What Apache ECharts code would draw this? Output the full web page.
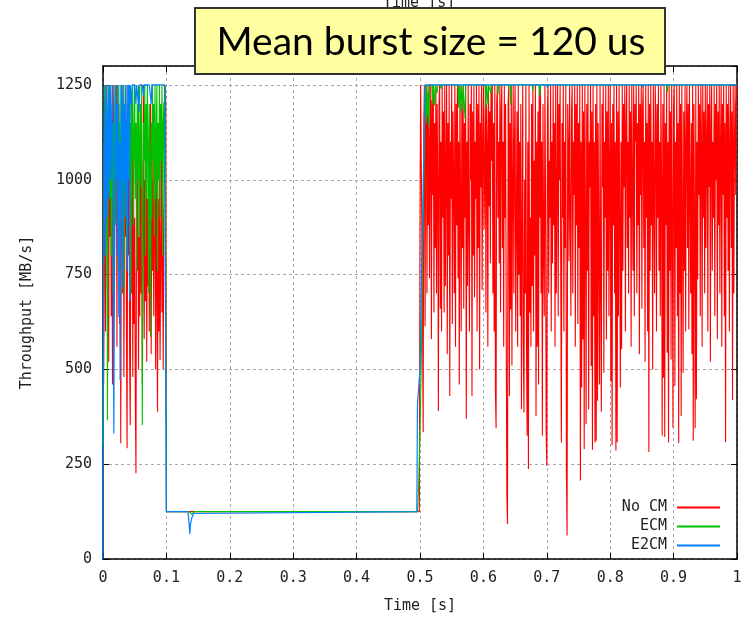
<!DOCTYPE html>
<html>
<head>
<meta charset="utf-8">
<script src="https://cdn.jsdelivr.net/npm/echarts@6/dist/echarts.min.js"></script>
<style>
html,body{margin:0;padding:0;background:#fff;}
#chart{width:753px;height:617px;}
</style>
</head>
<body>
<div id="chart"></div>
<script>
// ---------- data ----------
const seriesNames = ['No CM', 'ECM', 'E2CM'];
const xTickLabels = ['0','0.1','0.2','0.3','0.4','0.5','0.6','0.7','0.8','0.9','1'];
const yTickLabels = ['0','250','500','750','1000','1250'];
const sampleStep = 0.001;   // s between samples in the dense parts

// t = 0.000 .. 0.100 (1 ms samples)
const noCmHead = [
 780,460,790,1100,600,980,1250,700,1150,520,
 1200,850,1250,640,1100,460,1000,1250,700,1150,
 900,1250,560,1100,800,1200,620,1050,305,900,
 1250,700,1150,480,1000,850,1250,600,292,1100,
 800,1200,540,353,950,700,1150,480,1050,620,
 900,420,226,1000,760,1100,500,850,640,1200,
 700,1050,460,900,1250,580,1000,680,1150,520,
 950,720,1100,600,880,1200,540,1000,760,1150,
 640,900,1100,500,1050,720,388,950,600,1000,
 524,800,1100,650,920,500,900,1050,1250,1200,
 125];
const ecmHead = [
 300,674,1100,900,1250,1000,1200,366,900,1150,
 1250,950,1200,800,1100,1250,700,1150,1000,1250,
 880,1200,1050,1250,760,1150,950,1250,850,1100,
 1250,900,1200,700,1100,1250,980,1150,800,1200,
 1000,1250,900,1150,700,1200,1050,1250,880,1100,
 1250,950,1150,760,1200,1000,1250,850,1100,1200,
 980,1250,353,900,1150,1050,1250,800,1200,950,
 1250,1100,700,1200,1000,586,1150,900,1250,1050,
 1200,850,1250,950,1100,1250,760,1150,1000,1250,
 900,1200,1050,1250,800,1150,1205,1000,1250,1250,
 125];
const e2cmHead = [
 0,700,1250,1000,800,1150,1250,900,1100,1250,
 950,1200,1250,1000,1100,1250,850,331,700,1150,
 1250,1000,1200,800,1250,638,1100,472,900,1250,
 1150,717,1250,1000,1200,900,1250,1100,760,1250,
 1200,1250,680,1250,1250,1200,1250,1250,1250,1250,
 1250,1250,1200,1250,1250,1250,1250,1180,1250,1250,
 1250,1250,1250,1250,1220,1250,1250,1250,1250,1250,
 1250,1250,1250,1250,1250,1250,1200,1250,1250,1250,
 1250,1250,1250,1250,1250,1250,1250,1250,1250,1250,
 1250,1250,1250,1250,1250,1250,1250,1250,1250,1250,
 125];

// idle phase 0.1 .. 0.5 s and ramps, [time, MB/s]
const noCmMid = [[0.101,125],[0.499,125]];
const ecmMid = [[0.101,125],[0.136,125],[0.140,118],[0.144,125],[0.496,125],[0.498,200],[0.500,333],[0.502,509],[0.504,816],[0.506,1000],[0.508,1250]];
const e2cmMid = [[0.101,125],[0.134,125],[0.136,90],[0.137,66],[0.138,92],[0.140,108],[0.143,120],[0.146,125],[0.495,125],[0.496,408],[0.500,500],[0.503,807],[0.508,1250]];

// t = 0.500 .. 1.000 (1 ms samples)
const noCmTail = [
 900,1250,1250,1250,640,334,1150,1250,614,1180,
 1250,700,1200,880,1250,740,1100,1250,580,1210,
 960,1250,650,1150,820,1250,700,1200,1000,390,
 1200,1250,660,1100,600,1250,900,1180,650,1250,
 720,1050,1250,540,1150,800,1250,430,1100,950,
 1250,620,1180,1000,700,1250,560,1200,880,1250,
 740,1100,460,1250,950,600,1200,820,1250,660,
 1150,900,1250,370,1100,720,1250,880,600,1200,
 1000,1250,430,1180,800,1250,690,1100,950,1250,
 600,1200,820,1250,500,1150,980,1250,710,1100,
 1250,870,1000,1250,650,1200,1100,560,1250,930,
 1180,780,1250,1050,1250,700,1150,600,1250,440,
 345,1200,1250,900,1100,780,1250,650,1180,1250,
 820,1100,560,1250,900,1200,640,170,92,1200,
 1250,430,1150,658,1250,510,1000,1250,700,1100,
 1250,600,900,1180,560,1250,750,1100,640,1200,
 395,820,1250,560,386,1000,700,1250,540,325,
 1100,237,1250,650,900,560,1200,720,1250,600,
 1050,800,1250,377,1100,560,1180,460,1250,900,
 1250,700,1100,325,1200,820,640,1250,980,330,
 245,1180,1250,700,1050,900,1250,600,1100,780,
 1250,880,1150,560,1250,700,980,1250,640,1200,
 1000,1250,760,307,1150,900,1250,600,1100,820,
 1250,224,62,1200,1100,785,1250,900,640,1180,
 1250,700,1100,960,1250,560,1200,880,1250,620,
 1150,820,1250,207,1100,452,1250,579,1180,290,
 1250,900,355,1200,760,1250,395,1100,980,1250,
 509,1180,288,1250,640,1100,307,1200,312,1250,
 417,1150,820,460,1250,700,388,1200,980,1250,
 491,1100,900,1250,579,1180,760,1250,640,1050,
 1250,469,1150,300,1200,880,1250,700,1100,286,
 1250,308,1180,640,1250,900,452,1100,553,1250,
 760,1200,980,1250,600,1150,1250,820,1100,700,
 1250,900,1180,560,1250,1000,760,1250,640,1200,
 1100,1250,700,1150,880,1250,540,1200,960,1250,
 660,1180,1250,820,1100,520,1250,900,1150,600,
 1250,282,1200,760,1250,880,1100,500,1250,980,
 700,1250,1150,600,1200,900,1250,760,1100,640,
 1250,1000,325,1200,478,1250,322,1150,880,1250,
 544,1100,307,1250,760,1180,526,1250,900,346,
 1200,1250,456,1100,820,1250,640,1150,306,1250,
 700,1200,377,1250,900,491,1180,760,1250,600,
 1100,1250,820,1200,605,1250,980,700,1150,540,
 1250,312,1200,880,345,1250,421,1100,737,1250,
 960,1200,640,1250,1100,560,1250,900,1180,700,
 1250,820,1100,1250,600,1200,980,1250,520,1150,
 1250,760,1100,900,1250,640,1200,1000,1250,580,
 1180,880,1250,700,1100,1250,560,1200,960,1250,
 640,1150,308,1250,900,1200,760,1250,600,1100,
 1250,820,1180,419,1250,700,1100,1250,960,1200,
 1250];
const ecmTail = [
 [0.509,1250],[0.510,1150],[0.511,1250],[0.512,1170],[0.513,1230],[0.514,1140],[0.515,1250],
 [0.519,1250],[0.520,1200],[0.521,1250],[0.522,1250],[0.523,1195],[0.524,1250],[0.526,1250],
 [0.527,1228],[0.528,1250],[0.532,1250],[0.533,1240],[0.534,1250],[0.560,1250],[0.561,1190],
 [0.562,1250],[0.563,1250],[0.564,1175],[0.565,1250],[0.566,1250],[0.567,1185],[0.568,1250],
 [0.570,1250],[0.571,1160],[0.572,1250],[0.603,1250],[0.604,1190],[0.605,1250],[0.606,1250],
 [0.607,1200],[0.608,1250],[0.611,1250],[0.612,1228],[0.613,1250],[0.622,1250],[0.623,1224],
 [0.624,1250],[0.642,1250],[0.643,1197],[0.644,1250],[0.677,1250],[0.678,1235],[0.679,1250],
 [0.688,1250],[0.689,1220],[0.690,1250],[0.889,1250],[0.890,1230],[0.891,1250],[1.000,1250]];
const e2cmTail = [[0.509,1250],[0.700,1250],[0.701,1242],[0.702,1250],[0.850,1250],[0.851,1244],[0.852,1250],[1.000,1250]];

// ---------- build ----------
function dense(t0, vals) { return vals.map((v, i) => [+(t0 + i * sampleStep).toFixed(3), v]); }
const noCmData = dense(0, noCmHead).concat(noCmMid, dense(0.5, noCmTail));
const ecmData = dense(0, ecmHead).concat(ecmMid, ecmTail);
const e2cmData = dense(0, e2cmHead).concat(e2cmMid, e2cmTail);
const colors = ['#ff0000', '#00c000', '#0080ff'];

const monoFont = 'DejaVu Sans Mono';
const gridLine = { show: true, lineStyle: { color: '#a8a8a8', type: [3, 3], width: 1 } };
const tickIn = { show: true, inside: true, length: 6, lineStyle: { color: '#000' } };
const frame = { show: true, onZero: false, lineStyle: { color: '#000', width: 1.5 } };

const chart = echarts.init(document.getElementById('chart'), null, { renderer: 'canvas' });
chart.setOption({
  animation: false,
  backgroundColor: '#ffffff',
  grid: { left: 103, right: 16, top: 66, bottom: 58, containLabel: false, outerBoundsMode: 'none' },
  xAxis: [{
    type: 'value', min: 0, max: 1, interval: 0.1, position: 'bottom',
    name: 'Time [s]', nameLocation: 'middle', nameGap: 40,
    nameTextStyle: { fontFamily: monoFont, fontSize: 15, color: '#222' },
    axisLine: frame, axisTick: tickIn, splitLine: gridLine,
    axisLabel: { fontFamily: monoFont, fontSize: 15, color: '#222', margin: 12,
      formatter: v => xTickLabels[Math.round(v * 10)] }
  }, {
    type: 'value', min: 0, max: 1, interval: 0.1, position: 'top',
    axisLine: frame, axisTick: tickIn, splitLine: { show: false }, axisLabel: { show: false }
  }],
  yAxis: [{
    type: 'value', min: 0, max: 1300, interval: 250, position: 'left',
    name: 'Throughput [MB/s]', nameLocation: 'middle', nameGap: 68,
    nameTextStyle: { fontFamily: monoFont, fontSize: 15, color: '#222' },
    axisLine: frame, axisTick: tickIn, splitLine: gridLine,
    axisLabel: { fontFamily: monoFont, fontSize: 15, color: '#222', margin: 11, showMaxLabel: false,
      formatter: v => { const i = Math.round(v / 250); return (v % 250 === 0 && yTickLabels[i]) ? yTickLabels[i] : ''; } }
  }, {
    type: 'value', min: 0, max: 1300, interval: 250, position: 'right',
    axisLine: frame, axisTick: tickIn, splitLine: { show: false }, axisLabel: { show: false }
  }],
  legend: {
    orient: 'vertical', right: 28, top: 495, align: 'right',
    itemWidth: 43, itemHeight: 2, itemGap: 4, icon: 'rect',
    textStyle: { fontFamily: monoFont, fontSize: 15, color: '#222', padding: [0, 5, 0, 0] },
    data: seriesNames
  },
  series: [
    { name: seriesNames[0], type: 'line', data: noCmData, showSymbol: false, symbol: 'none',
      lineStyle: { width: 1.1, color: colors[0] }, itemStyle: { color: colors[0] }, z: 2 },
    { name: seriesNames[1], type: 'line', data: ecmData, showSymbol: false, symbol: 'none',
      lineStyle: { width: 1.1, color: colors[1] }, itemStyle: { color: colors[1] }, z: 3 },
    { name: seriesNames[2], type: 'line', data: e2cmData, showSymbol: false, symbol: 'none',
      lineStyle: { width: 1.2, color: colors[2] }, itemStyle: { color: colors[2] }, z: 4 }
  ],
  graphic: [
    { type: 'text', left: 420 - 37, top: -4, z: 50,
      style: { text: 'Time [s]', fontFamily: monoFont, fontSize: 15, fill: '#222' } },
    { type: 'rect', shape: { x: 195, y: 8, width: 470, height: 66 }, z: 100,
      style: { fill: '#ffffa0', stroke: '#333', lineWidth: 2 } },
    { type: 'text', x: 431, y: 42, z: 101,
      style: { text: 'Mean burst size = 120 us', fontFamily: 'Lato', fontSize: 39, fill: '#000',
        align: 'center', verticalAlign: 'middle' } }
  ]
});
</script>
</body>
</html>
